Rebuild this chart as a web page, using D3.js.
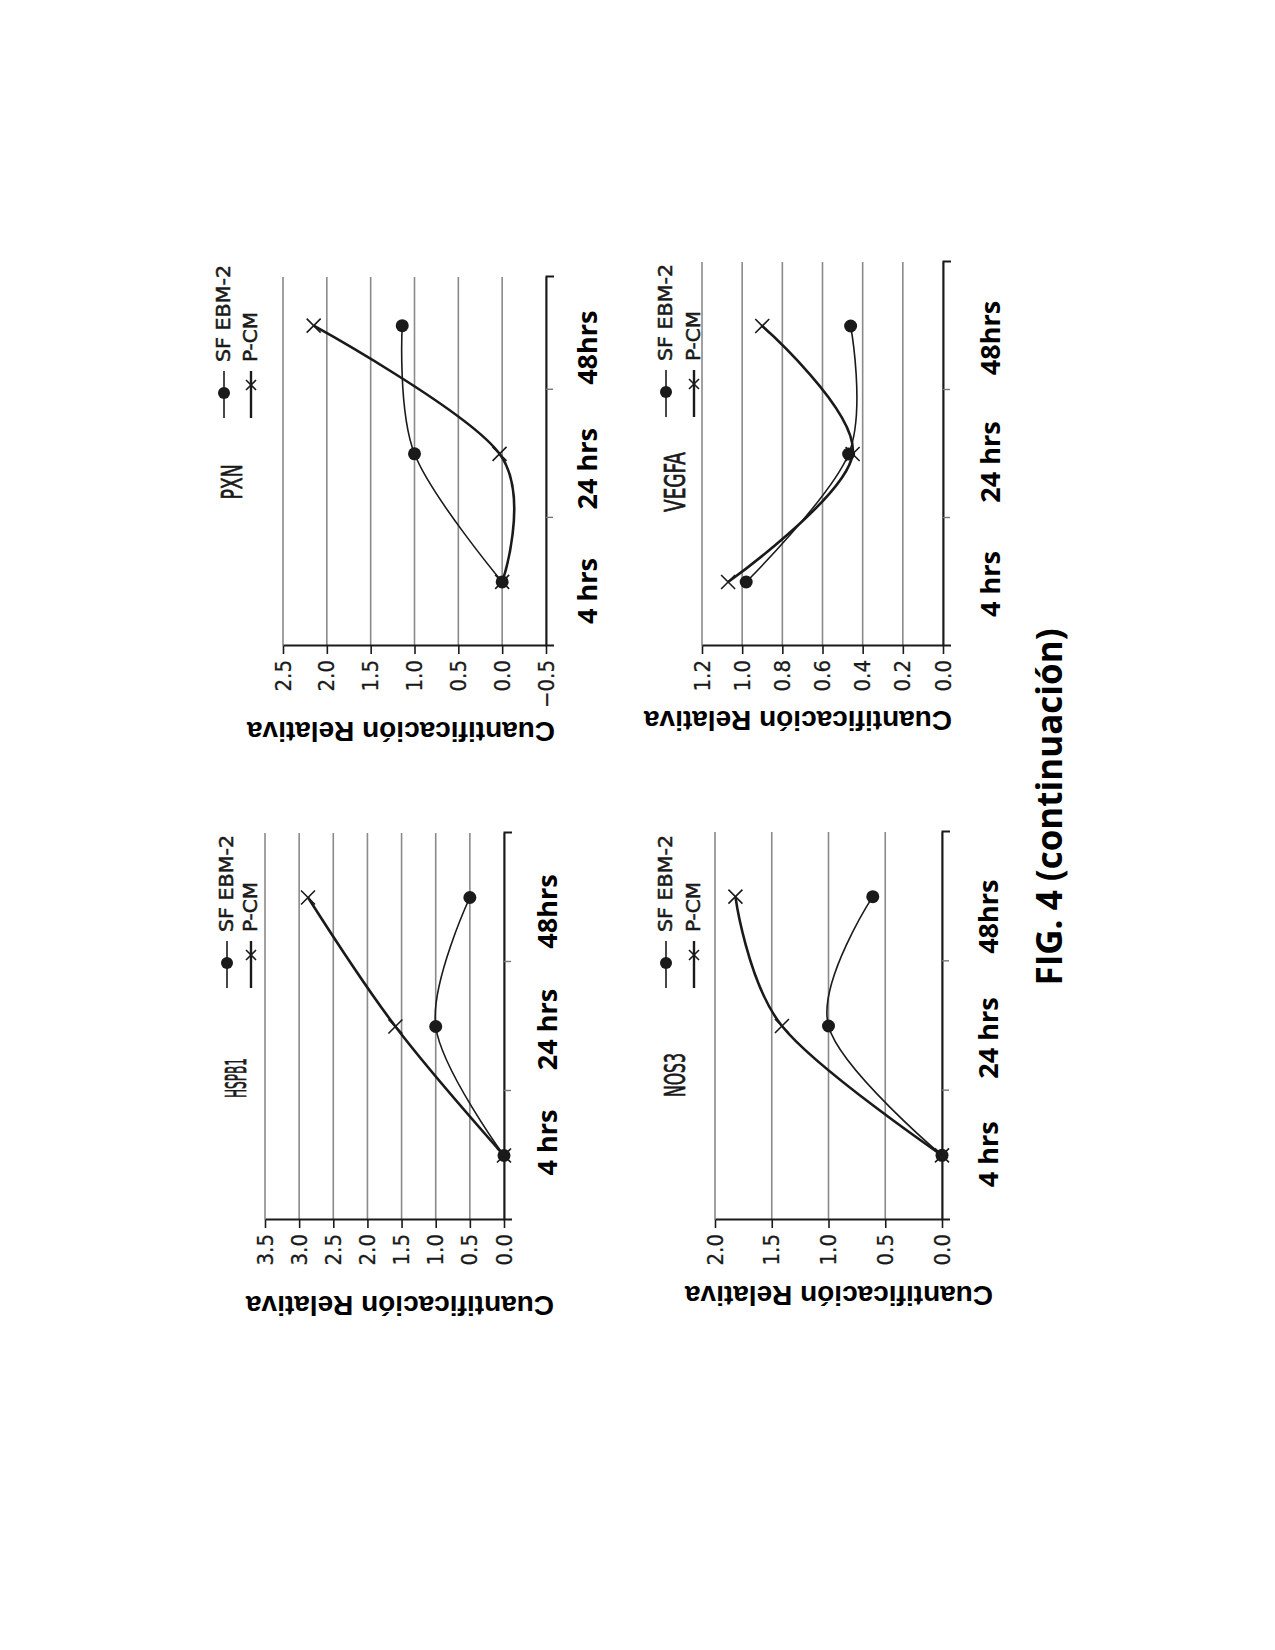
<!DOCTYPE html>
<html>
<head>
<meta charset="utf-8">
<script src="https://cdn.jsdelivr.net/npm/d3@7"></script>
<style>
  html, body { margin: 0; padding: 0; background: #fff; }
  svg { display: block; background: #fff; }
</style>
</head>
<body>
<svg id="page" width="1275" height="1650"></svg>
<script>
// categories and series
const timeLabels = ['4 hrs', '24 hrs', '48hrs'];
const seriesNames = ['SF EBM-2', 'P-CM'];

const hspb1SF  = [0.0, 1.0, 0.5];
const hspb1PCM = [0.0, 1.59, 2.87];
const pxnSF    = [0.0, 1.0, 1.14];
const pxnPCM   = [0.0, 0.03, 2.15];
const vegfaSF  = [0.98, 0.47, 0.46];
const vegfaPCM = [1.07, 0.45, 0.90];
const nos3SF   = [0.0, 1.0, 0.61];
const nos3PCM  = [0.0, 1.41, 1.82];

// value axis ticks
const hspb1Ticks = [0, 0.5, 1.0, 1.5, 2.0, 2.5, 3.0, 3.5];
const pxnTicks   = [-0.5, 0, 0.5, 1.0, 1.5, 2.0, 2.5];
const vegfaTicks = [0, 0.2, 0.4, 0.6, 0.8, 1.0, 1.2];
const nos3Ticks  = [0, 0.5, 1.0, 1.5, 2.0];

const yLabelText = 'Cuantificación Relativa';
const captionText = 'FIG. 4 (continuación)';

// The page is printed turned a quarter turn, so everything is laid out
// landscape (1650 x 1275) and the whole group is rotated at the end.
const panels = [
  { gene: 'HSPB1', sf: hspb1SF, pcm: hspb1PCM, ticks: hspb1Ticks,
    xDomain: [-0.5, 2.5], xRange: [430, 817], yRange: [504, 265],
    title: { x: 572, y: 246, len: 40 }, legend: { x: 687, rows: [233, 257] },
    yLabel: { x: 354, y: 400 }, cat: { y: 557, dx: [13, -3, -14] } },
  { gene: 'PXN', sf: pxnSF, pcm: pxnPCM, ticks: pxnTicks,
    xDomain: [-0.5, 2.38], xRange: [1004, 1373], yRange: [546, 283],
    title: { x: 1168, y: 242, len: 35 }, legend: { x: 1257, rows: [230, 257] },
    yLabel: { x: 928, y: 401 }, cat: { y: 597, dx: [-9, -15, -22] } },
  { gene: 'VEGFA', sf: vegfaSF, pcm: vegfaPCM, ticks: vegfaTicks,
    xDomain: [-0.5, 2.5], xRange: [1004, 1388], yRange: [943, 702],
    title: { x: 1168, y: 685, len: 60 }, legend: { x: 1258, rows: [672, 700] },
    yLabel: { x: 939, y: 798 }, cat: { y: 1000, dx: [-2, -8, -12] } },
  { gene: 'NOS3', sf: nos3SF, pcm: nos3PCM, ticks: nos3Ticks,
    xDomain: [-0.5, 2.5], xRange: [430, 818], yRange: [942, 715],
    title: { x: 575, y: 685, len: 44 }, legend: { x: 687, rows: [672, 700] },
    yLabel: { x: 364, y: 839 }, cat: { y: 998, dx: [1, -12, -20] } }
];

const ink = '#1a1a1a';
const narrow = '"Liberation Sans Narrow", "DejaVu Sans Condensed", "Liberation Sans", Arial, sans-serif';

const svg = d3.select('#page');
const root = svg.append('g').attr('transform', 'translate(0,1650) rotate(-90)');

panels.forEach(p => drawPanel(root, p));

root.append('text')
  .attr('x', 843)
  .attr('y', 1062)
  .attr('text-anchor', 'middle')
  .attr('font-family', '"Open Sans", "Noto Sans", sans-serif')
  .attr('font-weight', 'bold')
  .attr('font-size', 35)
  .attr('fill', '#000')
  .text(captionText);

function xMarker(sel, s) {
  sel.attr('d', `M${-s},${-s}L${s},${s}M${-s},${s}L${s},${-s}`)
    .attr('fill', 'none')
    .attr('stroke', ink)
    .attr('stroke-width', 1.6);
}

function drawPanel(root, p) {
  const x = d3.scaleLinear().domain(p.xDomain).range(p.xRange);
  const y = d3.scaleLinear()
    .domain([p.ticks[0], p.ticks[p.ticks.length - 1]])
    .range(p.yRange);
  const g = root.append('g');

  // gridlines
  g.append('g').selectAll('line')
    .data(p.ticks)
    .join('line')
    .attr('x1', p.xRange[0])
    .attr('x2', p.xRange[1])
    .attr('y1', d => y(d))
    .attr('y2', d => y(d))
    .attr('stroke', '#8a8a8a')
    .attr('stroke-width', 1.6);

  // value axis
  const yAxis = d3.axisLeft(y)
    .tickValues(p.ticks)
    .tickSize(8)
    .tickSizeOuter(0)
    .tickPadding(6)
    .tickFormat(d3.format('.1f'));
  g.append('g')
    .attr('transform', `translate(${p.xRange[0]},0)`)
    .call(yAxis)
    .call(a => a.select('.domain').attr('stroke', ink).attr('stroke-width', 2))
    .call(a => a.selectAll('.tick line').attr('stroke', ink).attr('stroke-width', 1.6))
    .call(a => a.selectAll('.tick text')
      .attr('font-family', narrow)
      .attr('font-size', 22)
      .attr('fill', ink)
      .attr('stroke', ink)
      .attr('stroke-width', 0.3));

  // time axis, ticks between the categories
  const xAxis = d3.axisBottom(x)
    .tickValues([0.5, 1.5])
    .tickSize(7)
    .tickSizeOuter(8)
    .tickFormat('');
  g.append('g')
    .attr('transform', `translate(0,${p.yRange[0]})`)
    .call(xAxis)
    .call(a => a.select('.domain').attr('stroke', ink).attr('stroke-width', 2))
    .call(a => a.selectAll('.tick line').attr('stroke', '#777').attr('stroke-width', 1.4));

  const line = d3.line()
    .x((d, i) => x(i))
    .y(d => y(d))
    .curve(d3.curveCardinal.tension(0));

  g.append('path')
    .attr('d', line(p.sf))
    .attr('fill', 'none')
    .attr('stroke', ink)
    .attr('stroke-width', 1.6);
  g.append('path')
    .attr('d', line(p.pcm))
    .attr('fill', 'none')
    .attr('stroke', ink)
    .attr('stroke-width', 2.6);

  g.append('g').selectAll('circle')
    .data(p.sf)
    .join('circle')
    .attr('cx', (d, i) => x(i))
    .attr('cy', d => y(d))
    .attr('r', 6.5)
    .attr('fill', ink);
  g.append('g').selectAll('path')
    .data(p.pcm)
    .join('path')
    .attr('transform', (d, i) => `translate(${x(i)},${y(d)})`)
    .call(xMarker, 7);

  // gene title
  g.append('text')
    .attr('x', p.title.x)
    .attr('y', p.title.y)
    .attr('text-anchor', 'middle')
    .attr('font-family', narrow)
    .attr('font-size', 28)
    .attr('textLength', p.title.len)
    .attr('lengthAdjust', 'spacingAndGlyphs')
    .attr('fill', ink)
    .attr('stroke', ink)
    .attr('stroke-width', 0.7)
    .text(p.gene);

  // legend
  const lg = g.append('g');
  seriesNames.forEach((name, i) => {
    const ry = p.legend.rows[i] - 6;
    lg.append('line')
      .attr('x1', p.legend.x - 25)
      .attr('x2', p.legend.x + 22)
      .attr('y1', ry)
      .attr('y2', ry)
      .attr('stroke', ink)
      .attr('stroke-width', i === 0 ? 1.6 : 2.4);
    if (i === 0) {
      lg.append('circle')
        .attr('cx', p.legend.x)
        .attr('cy', ry)
        .attr('r', 6)
        .attr('fill', ink);
    } else {
      lg.append('path')
        .attr('transform', `translate(${p.legend.x + 8},${ry})`)
        .call(xMarker, 5);
    }
    lg.append('text')
      .attr('x', p.legend.x + 31)
      .attr('y', p.legend.rows[i])
      .attr('font-family', narrow)
      .attr('font-size', 19)
      .attr('textLength', i === 0 ? 97 : 50)
      .attr('lengthAdjust', 'spacingAndGlyphs')
      .attr('fill', ink)
      .attr('stroke', ink)
      .attr('stroke-width', 0.5)
      .text(name);
  });

  // category labels
  g.append('g').selectAll('text')
    .data(timeLabels)
    .join('text')
    .attr('x', (d, i) => x(i) + p.cat.dx[i])
    .attr('y', p.cat.y)
    .attr('text-anchor', 'middle')
    .attr('font-family', '"Open Sans", "Noto Sans", sans-serif')
    .attr('font-weight', 'bold')
    .attr('font-size', 27)
    .attr('fill', '#000')
    .text(d => d);

  // value axis title
  g.append('text')
    .attr('transform', `translate(${p.yLabel.x},${p.yLabel.y}) rotate(-90)`)
    .attr('text-anchor', 'middle')
    .attr('font-family', '"Liberation Sans", Arial, sans-serif')
    .attr('font-weight', 'bold')
    .attr('font-size', 28)
    .attr('fill', '#000')
    .text(yLabelText);
}
</script>
</body>
</html>
